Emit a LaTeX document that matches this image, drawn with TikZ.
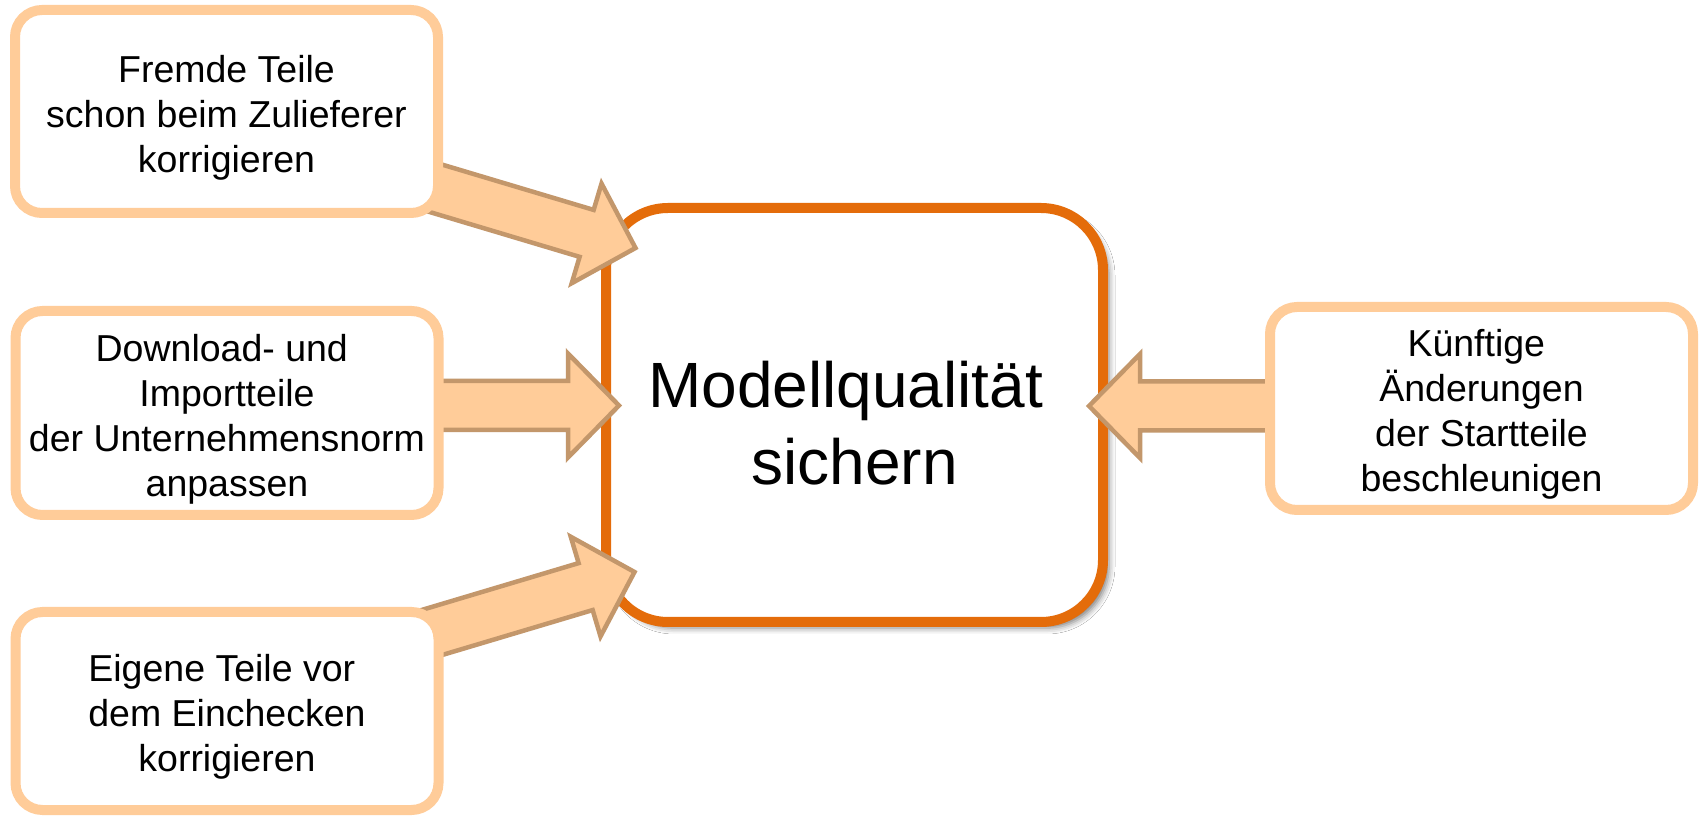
\documentclass[tikz,border=0pt]{standalone}
\usepackage{fontspec}
\setmainfont{Liberation Sans}
\usetikzlibrary{calc,shadows.blur}
\definecolor{peach}{HTML}{FFCC99}
\definecolor{arrowedge}{HTML}{C3976B}
\definecolor{mainorange}{HTML}{E46C0A}
\tikzset{
 sidebox/.style={draw=peach, line width=10pt, fill=white, rounded corners=27pt, minimum width=423pt, minimum height=203pt, inner sep=0pt},
 sidetext/.style={align=center, font=\fontsize{37.5}{45}\selectfont, inner sep=0pt},
 mainbox/.style={draw=mainorange, line width=10pt, fill=white, rounded corners=62pt, minimum width=497pt, minimum height=414pt, inner sep=0pt, blur shadow={shadow xshift=6pt, shadow yshift=-6pt, shadow blur radius=6pt, shadow opacity=50}},
 maintext/.style={align=center, font=\fontsize{64}{77}\selectfont, inner sep=0pt},
 fatarr/.style={fill=peach, draw=arrowedge, line width=4.5pt, line join=miter},
}
\newcommand\fatarrow[2]{%
  \coordinate (h#2) at ($(#2)!51pt!(#1)$);
  \draw[fatarr] (#2) -- ($(h#2)!52pt!90:(#2)$) -- ($(h#2)!24.5pt!90:(#2)$) -- ($(#1)!24.5pt!90:(#2)$) -- ($(#1)!24.5pt!-90:(#2)$) -- ($(h#2)!24.5pt!-90:(#2)$) -- ($(h#2)!52pt!-90:(#2)$) -- cycle;}
\begin{document}
\begin{tikzpicture}[x=1pt,y=1pt]
\useasboundingbox (0,0) rectangle (1700,817);
\fill[white] (0,0) rectangle (1700,817);
\node[mainbox] (m) at (854.5,402) {};
\node[maintext] (mt) at (854.5,393.5) {Modellqualität\hspace*{0.278em}\\sichern};
\coordinate (a1) at (380,645.4); \coordinate (t1) at (635.5,569);
\coordinate (a2) at (420,411.5); \coordinate (t2) at (619,411.5);
\coordinate (a3) at (380,169);   \coordinate (t3) at (634.5,245);
\coordinate (a4) at (1290,411);  \coordinate (t4) at (1089,411);
\fatarrow{a1}{t1}
\fatarrow{a2}{t2}
\fatarrow{a3}{t3}
\fatarrow{a4}{t4}
\node[sidebox] (b1) at (226.5,705.5) {};
\node[sidetext] (b1t) at ($(b1.center)+(0,-6)$) {Fremde Teile\\schon beim Zulieferer\\korrigieren};
\node[sidebox, minimum height=204pt] (b2) at (227,404) {};
\node[sidetext] (b2t) at ($(b2.center)+(0,-6)$) {Download- und\hspace*{0.278em}\\Importteile\\der Unternehmensnorm\\anpassen};
\node[sidebox, minimum height=198pt] (b3) at (227,106) {};
\node[sidetext] (b3t) at ($(b3.center)+(0,-6)$) {Eigene Teile vor\hspace*{0.278em}\\dem Einchecken\\korrigieren};
\node[sidebox] (b4) at (1481.5,408.5) {};
\node[sidetext] (b4t) at ($(b4.center)+(0,-6)$) {Künftige\hspace*{0.278em}\\Änderungen\\der Startteile\\beschleunigen};
\end{tikzpicture}
\end{document}
